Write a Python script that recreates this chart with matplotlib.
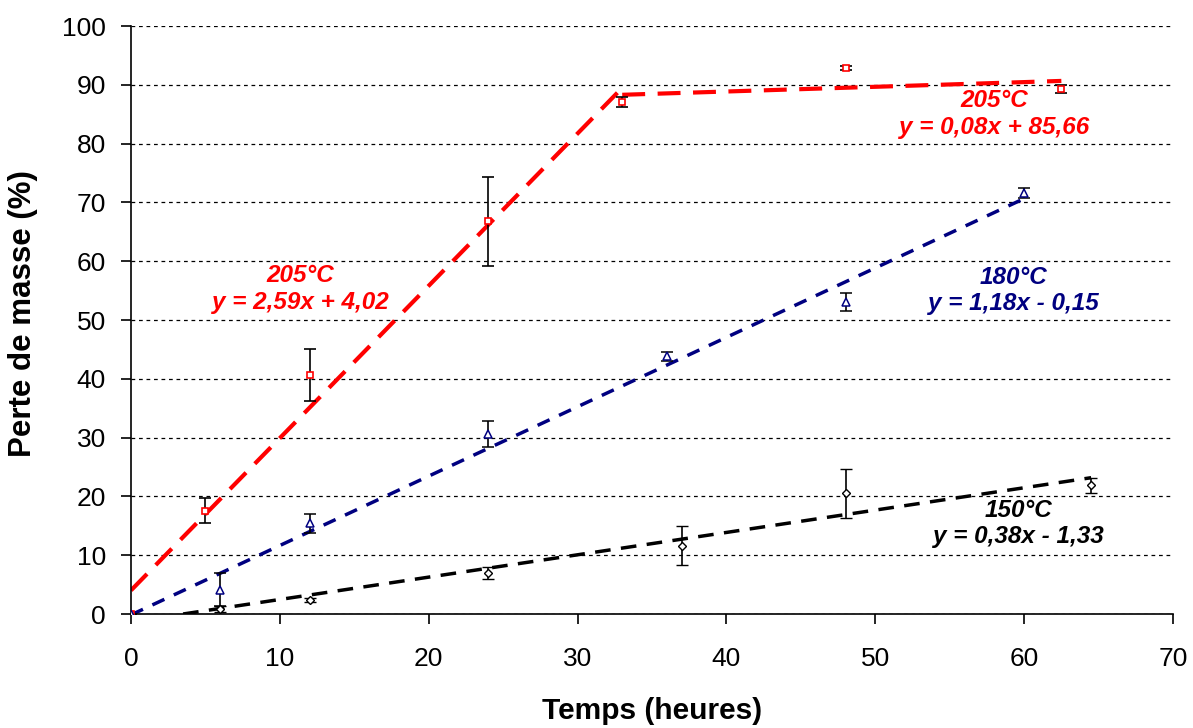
import matplotlib
matplotlib.use("Agg")
import matplotlib.pyplot as plt
import numpy as np

plt.rcParams['font.family'] = ['Liberation Sans', 'DejaVu Sans']

# 205°C data
t_205 = [0, 5, 12, 24, 33, 48, 62.5]
m_205 = [0, 17.6, 40.6, 66.8, 87.0, 92.9, 89.3]
e_205 = [0, 2.2, 4.45, 7.6, 0.85, 0.3, 0.75]
# 180°C data
t_180 = [0, 6, 12, 24, 36, 48, 60]
m_180 = [0, 4.1, 15.4, 30.6, 43.8, 53.1, 71.6]
e_180 = [0, 2.8, 1.6, 2.2, 0.8, 1.5, 0.9]
# 150°C data
t_150 = [6, 12, 24, 37, 48, 64.5]
m_150 = [0.8, 2.4, 7.0, 11.6, 20.5, 21.9]
e_150 = [0.5, 0.3, 1.0, 3.3, 4.2, 1.3]

# trend lines: (slope, intercept, x_start, x_end)
fit_205a = (2.59, 4.02, 0, 33)
fit_205b = (0.08, 85.66, 33, 62.5)
fit_180 = (1.18, -0.15, 0, 60)
fit_150 = (0.38, -1.33, 3.5, 64.5)

RED = '#FF0000'
BLUE = '#000080'
BLACK = '#000000'

fig = plt.figure(figsize=(11.93, 7.28), dpi=100)
ax = fig.add_axes([131/1193, 1-614/728, (1173-131)/1193, (614-26)/728])

def trend(fit, color, dashes, lw):
    a, b, x0, x1 = fit
    xs = np.array([x0, x1])
    ax.plot(xs, a*xs + b, color=color, lw=lw, dashes=dashes, zorder=2)

trend(fit_205a, RED, (5.5, 3), 3)
trend(fit_205b, RED, (5.5, 3), 3)
trend(fit_180, BLUE, (3.8, 3), 2.5)
trend(fit_150, BLACK, (4.5, 3), 2.5)

ekw = dict(ecolor='black', elinewidth=1.2, capsize=4, capthick=1.2, ls='none', zorder=3)
ax.errorbar(t_205, m_205, yerr=e_205, marker='s', ms=4.5, mfc='white', mec=RED, mew=1.2, **ekw)
ax.errorbar(t_180, m_180, yerr=e_180, marker='^', ms=5.5, mfc='white', mec=BLUE, mew=1.1, **ekw)
ax.errorbar(t_150, m_150, yerr=e_150, marker='D', ms=4.5, mfc='white', mec=BLACK, mew=1.0, **ekw)

tkw = dict(fontsize=17.5, fontweight='bold', fontstyle='italic', ha='center', va='center',
           linespacing=1.2)
ax.text(11.35, 55.3, '205°C\ny = 2,59x + 4,02', color=RED, **tkw)
ax.text(58.0, 85.0, '205°C\ny = 0,08x + 85,66', color=RED, **tkw)
ax.text(59.3, 55.0, '180°C\ny = 1,18x - 0,15', color=BLUE, **tkw)
ax.text(59.6, 15.4, '150°C\ny = 0,38x - 1,33', color=BLACK, **tkw)

ax.set_xlim(0, 70)
ax.set_ylim(0, 100)
ax.set_xticks(np.arange(0, 71, 10))
ax.set_yticks(np.arange(0, 101, 10))
ax.yaxis.grid(True, color='black', linestyle=(0, (3, 3)), linewidth=0.9)
ax.set_axisbelow(True)
for s in ['top', 'right']:
    ax.spines[s].set_visible(False)
for s in ['left', 'bottom']:
    ax.spines[s].set_linewidth(1.2)
ax.tick_params(axis='both', direction='out', length=7, width=1.2, labelsize=19)
ax.tick_params(axis='x', pad=17)
ax.tick_params(axis='y', pad=11)

ax.set_xlabel('Temps (heures)', fontsize=21.5, fontweight='bold')
ax.set_ylabel('Perte de masse (%)', fontsize=22.5, fontweight='bold')
ax.xaxis.set_label_coords((652-131)/1042, (614-697)/588)
ax.yaxis.set_label_coords((38-131)/1042, (614-314)/588)

fig.savefig('out.png', dpi=100)
